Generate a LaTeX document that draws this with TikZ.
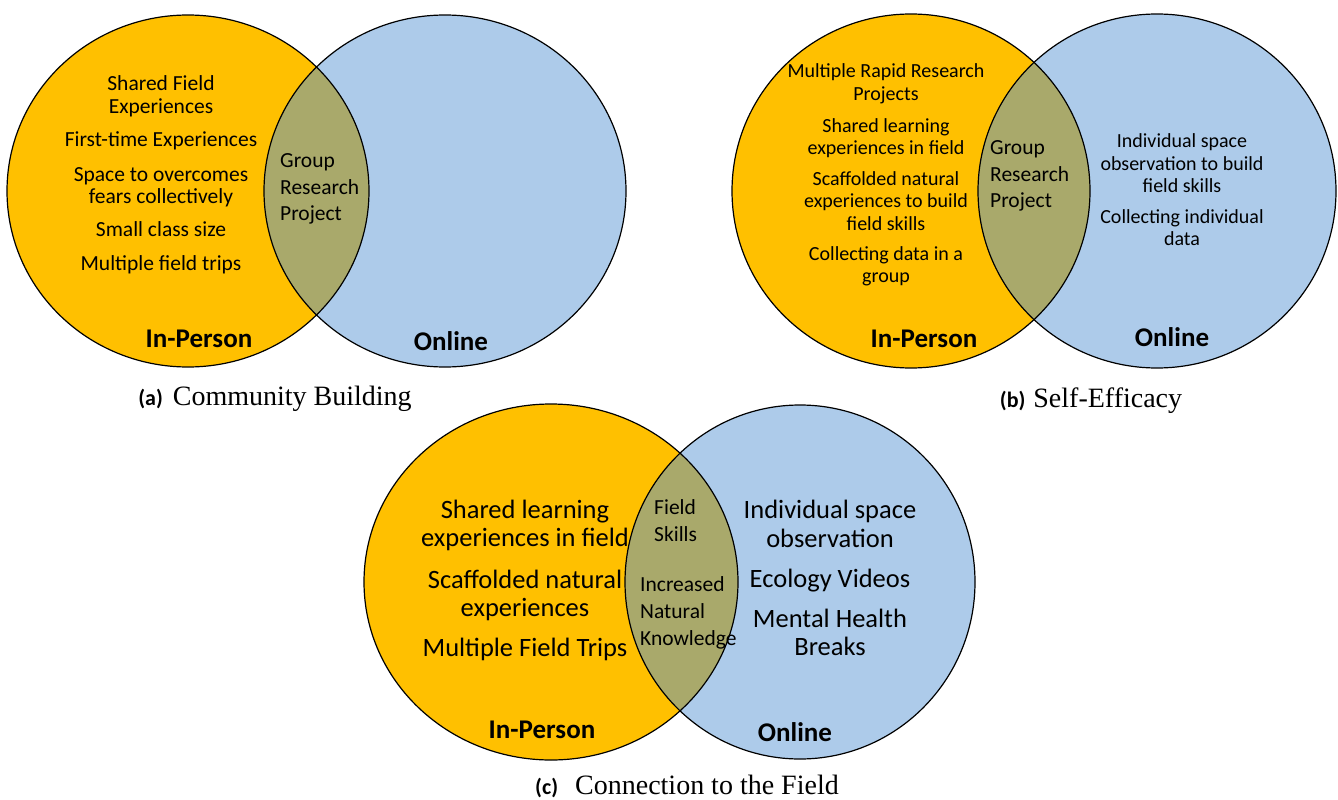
\documentclass[tikz,border=0pt]{standalone}
\usepackage{fontspec}
\setmainfont{Carlito}
\newfontfamily\capfont{Liberation Serif}
\definecolor{inperson}{HTML}{FFC000}
\definecolor{online}{HTML}{ADCBEA}
\definecolor{overlap}{HTML}{A9A96B}
\newcommand\figtag[2]{{\normalfont\bfseries\fontsize{22}{24}\selectfont(#1)}\hspace{#2}}
\tikzset{
 vennline/.style={line width=1.2pt, draw=black},
 itemsA/.style={font=\fontsize{21.5}{22.5}\selectfont, align=center, inner sep=0pt},
 itemsB/.style={font=\fontsize{20}{22.2}\selectfont, align=center, inner sep=0pt},
 itemsC/.style={font=\fontsize{26.5}{28.5}\selectfont, align=center, inner sep=0pt},
 lens/.style={font=\fontsize{21.5}{26.8}\selectfont, align=left, inner sep=0pt, anchor=west},
 setlabel/.style={font=\bfseries\fontsize{27}{30}\selectfont, inner sep=0pt, anchor=base},
 caption/.style={font=\capfont\fontsize{28}{32}\selectfont, inner sep=0pt, anchor=base},
}
\begin{document}
\begin{tikzpicture}[x=1pt,y=-1pt]
\useasboundingbox (0,0) rectangle (1338,800);
% ---------- (a) ----------
\fill[inperson] (188,191) ellipse [x radius=181pt, y radius=176pt];
\fill[online] (445,191) ellipse [x radius=181pt, y radius=176pt];
\begin{scope}
 \clip (188,191) ellipse [x radius=181pt, y radius=176pt];
 \fill[overlap] (445,191) ellipse [x radius=181pt, y radius=176pt];
\end{scope}
\draw[vennline] (188,191) ellipse [x radius=181pt, y radius=176pt];
\draw[vennline] (445,191) ellipse [x radius=181pt, y radius=176pt];
\node[itemsA] (aL) at (161,175) {Shared Field\\Experiences\\[11pt]First-time Experiences\\[12pt]Space to overcomes\\fears collectively\\[10pt]Small class size\\[12pt]Multiple field trips};
\node[lens] (aM) at (280,189) {Group\\Research\\Project};
\node[setlabel] (aIP) at (199,347) {In-Person};
\node[setlabel] (aON) at (451,350) {Online};
\node[caption] (aCap) at (275,405) {\figtag{a}{10pt}Community Building};
% ---------- (b) ----------
\fill[inperson] (911,191) ellipse [x radius=179pt, y radius=177pt];
\fill[online] (1157,191) ellipse [x radius=179pt, y radius=177pt];
\begin{scope}
 \clip (911,191) ellipse [x radius=179pt, y radius=177pt];
 \fill[overlap] (1157,191) ellipse [x radius=179pt, y radius=177pt];
\end{scope}
\draw[vennline] (911,191) ellipse [x radius=179pt, y radius=177pt];
\draw[vennline] (1157,191) ellipse [x radius=179pt, y radius=177pt];
\node[itemsB] (bL) at (886,175) {Multiple Rapid Research\\Projects\\[10pt]Shared learning\\experiences in field\\[9pt]Scaffolded natural\\experiences to build\\field skills\\[8pt]Collecting data in a\\group};
\node[lens] (bM) at (990,176) {Group\\Research\\Project};
\node[itemsB] (bR) at (1182,190) {Individual space\\observation to build\\field skills\\[9pt]Collecting individual\\data};
\node[setlabel] (bIP) at (924,347) {In-Person};
\node[setlabel] (bON) at (1172,346) {Online};
\node[caption] (bCap) at (1091,407) {\figtag{b}{8pt}Self-Efficacy};
% ---------- (c) ----------
\fill[inperson] (551,582) ellipse [x radius=187pt, y radius=178pt];
\fill[online] (800,582) ellipse [x radius=175pt, y radius=177pt];
\begin{scope}
 \clip (551,582) ellipse [x radius=187pt, y radius=178pt];
 \fill[overlap] (800,582) ellipse [x radius=175pt, y radius=177pt];
\end{scope}
\draw[vennline] (551,582) ellipse [x radius=187pt, y radius=178pt];
\draw[vennline] (800,582) ellipse [x radius=175pt, y radius=177pt];
\node[itemsC] (cL) at (525,580) {Shared learning\\experiences in field\\[13pt]Scaffolded natural\\experiences\\[11pt]Multiple Field Trips};
\node[lens] (cM1) at (654,521) {Field\\Skills};
\node[lens] (cM2) at (640,613) {Increased\\Natural\\Knowledge};
\node[itemsC] (cR) at (830,578) {Individual space\\observation\\[12pt]Ecology Videos\\[11pt]Mental Health\\Breaks};
\node[setlabel] (cIP) at (542,738) {In-Person};
\node[setlabel] (cON) at (795,741) {Online};
\node[caption] (cCap) at (687,794) {\figtag{c}{17pt}Connection to the Field};
\end{tikzpicture}
\end{document}
